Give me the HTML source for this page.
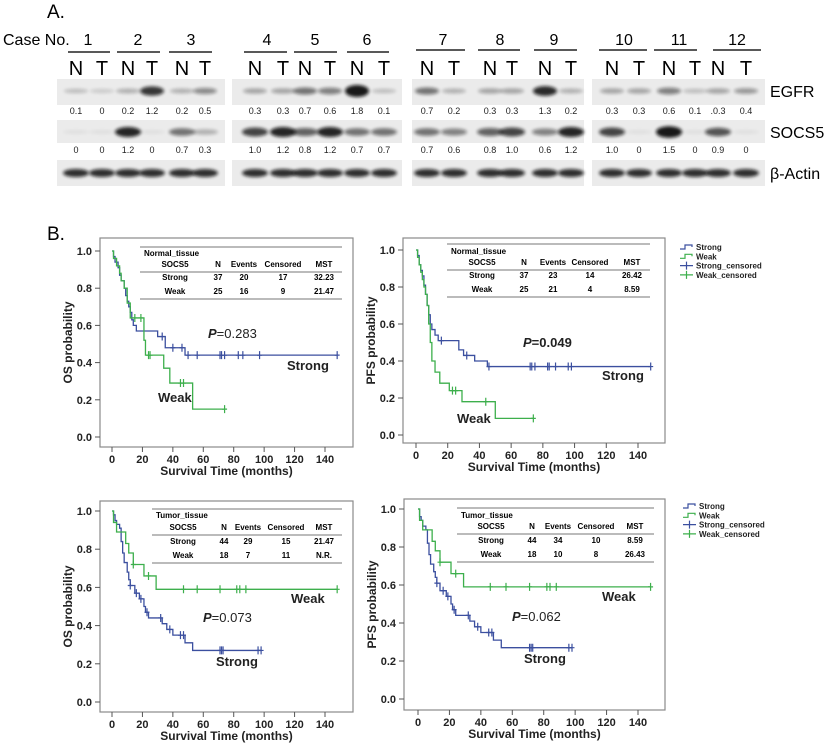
<!DOCTYPE html>
<html><head><meta charset="utf-8"><style>
body{margin:0;background:#fff;width:824px;height:744px;overflow:hidden}
svg{display:block;font-family:"Liberation Sans",sans-serif}
.b{font-weight:bold}
</style></head><body>
<svg id="fig" width="824" height="744" viewBox="0 0 824 744">
<defs><filter id="bl" x="-50%" y="-100%" width="200%" height="300%"><feGaussianBlur stdDeviation="1.6"/></filter></defs>
<text x="47" y="18" font-size="19">A.</text>
<text x="3" y="45" font-size="16">Case No.</text>
<g id="blot"></g>
<text x="47" y="240" font-size="19">B.</text>
<g id="plots"></g>
</svg>
<script>
const NS='http://www.w3.org/2000/svg';
function mk(tag,attrs,parent,txt){const e=document.createElementNS(NS,tag);for(const k in attrs)e.setAttribute(k,attrs[k]);if(txt!==undefined)e.textContent=txt;parent.appendChild(e);return e;}
// ---------- Blot data ----------
const caseNumbers=['1','2','3','4','5','6','7','8','9','10','11','12'];
const egfrValues=['0.1','0','0.2','1.2','0.2','0.5','0.3','0.3','0.7','0.6','1.8','0.1','0.7','0.2','0.3','0.3','1.3','0.2','0.3','0.3','0.6','0.1','.0.3','0.4'];
const socs5Values=['0','0','1.2','0','0.7','0.3','1.0','1.2','0.8','1.2','0.7','0.7','0.7','0.6','0.8','1.0','0.6','1.2','1.0','0','1.5','0','0.9','0'];
const laneX=[76,102,128,152,182,205,255,283,305,330,357,384,427,454,490,512,545,571,612,639,669,695,718,746];
const caseCx=[88,138,191,267,315,367,443,500,554,624,679,737];
const caseLine=[[68,110],[117,160],[169,212],[244,287],[294,337],[347,389],[416,465],[478,520],[534,577],[599,647],[654,697],[713,761]];
const panels=[[57,225],[232,402],[412,584],[592,765]];
const blot=document.getElementById('blot');
caseNumbers.forEach((c,i)=>{
  const t=mk('text',{x:caseCx[i],y:45,'font-size':16,'text-anchor':'middle'},blot,c);
  
  const ly=i<6?52:50;
  const l=mk('line',{x1:caseLine[i][0],x2:caseLine[i][1],y1:ly,y2:ly,stroke:'#222','stroke-width':1.5},blot);
  
});
laneX.forEach((x,i)=>{
  const t=mk('text',{x:x,y:75,'font-size':20,'text-anchor':'middle'},blot,i%2?'T':'N');
  
});
const rows=[[79,105],[120,143],[160,186]];
panels.forEach(p=>{rows.forEach(r=>{
  const rc=mk('rect',{x:p[0],y:r[0],width:p[1]-p[0],height:r[1]-r[0],fill:'#ebebeb'},blot);
  
});});
laneX.forEach((x,i)=>{
  const e=parseFloat(egfrValues[i].replace('.0.','0.'))||0;
  const b1=mk('ellipse',{cx:x,cy:91,rx:12,ry:2+Math.min(e,1.8)*2.2,fill:'#111',opacity:Math.min(0.15+e*0.55,0.95),filter:'url(#bl)'},blot);
  
  const s=parseFloat(socs5Values[i])||0;
  const b2=mk('ellipse',{cx:x,cy:132,rx:13,ry:2+s*2.5,fill:'#111',opacity:Math.min(0.05+s*0.7,0.95),filter:'url(#bl)'},blot);
  
  const b3=mk('ellipse',{cx:x,cy:173,rx:13,ry:4,fill:'#111',opacity:0.85,filter:'url(#bl)'},blot);
  
  const t1=mk('text',{x:x,y:114,'font-size':9,'text-anchor':'middle',fill:'#222'},blot,egfrValues[i]);
  
  const t2=mk('text',{x:x,y:153,'font-size':9,'text-anchor':'middle',fill:'#222'},blot,socs5Values[i]);
  
});
[['EGFR',97],['SOCS5',138],['β-Actin',179]].forEach(a=>{
  const t=mk('text',{x:770,y:a[1],'font-size':16},blot,a[0]);
  
});
// ---------- KM data ----------
const xTicks=[0,20,40,60,80,100,120,140];
const yTicks=[0,0.2,0.4,0.6,0.8,1.0];
const p1StrongT=[0,1,2,4,5,6,8,9,10,11,12,13,14,16,30,35,48];
const p1StrongS=[1,.97,.94,.91,.87,.84,.80,.76,.73,.70,.67,.63,.60,.57,.54,.48,.44];
const p1StrongC=[33,40,46,50,56,71,72,74,83,86,97,148];
const p1WeakT=[0,1,3,5,6,8,10,12,21,22,34,38,53];
const p1WeakS=[1,.96,.92,.88,.84,.80,.72,.64,.52,.44,.37,.29,.15];
const p1WeakC=[15,19,24,25,45,47,74];
const p2StrongT=[0,1,2,3,4,5,6,7,8,9,10,12,14,27,30,37,45];
const p2StrongS=[1,.97,.92,.89,.86,.81,.76,.70,.65,.60,.57,.54,.51,.46,.43,.40,.37];
const p2StrongC=[16,32,46,72,73,75,83,84,88,96,98,148];
const p2WeakT=[0,1,2,3,4,5,6,7,8,9,10,12,15,21,29,50];
const p2WeakS=[1,.96,.92,.88,.84,.80,.76,.70,.60,.50,.40,.34,.28,.24,.18,.09];
const p2WeakC=[23,25,44,74];
const p3StrongT=[0,1,2,3,5,6,7,8,10,11,12,15,18,21,22,24,33,36,40,48,53];
const p3StrongS=[1,.98,.95,.93,.91,.84,.78,.73,.68,.64,.61,.57,.54,.50,.47,.44,.41,.38,.35,.31,.27];
const p3StrongC=[12,16,19,23,32,38,45,47,71,72,73,96,98];
const p3WeakT=[0,1,3,9,11,14,21,29];
const p3WeakS=[1,.94,.89,.83,.78,.72,.66,.59];
const p3WeakC=[14,24,47,56,71,82,84,88,148];
const p4StrongT=[0,1,2,3,5,6,7,8,10,11,12,14,18,21,22,24,33,36,40,48,53];
const p4StrongS=[1,.96,.94,.91,.89,.82,.76,.71,.67,.64,.61,.57,.54,.50,.47,.44,.41,.38,.35,.31,.27];
const p4StrongC=[12,16,19,23,32,38,45,47,71,72,73,96,98];
const p4WeakT=[0,1,3,9,11,14,21,29];
const p4WeakS=[1,.94,.89,.83,.78,.72,.66,.59];
const p4WeakC=[14,24,46,56,71,82,84,88,148];
const tblNormal1=[['Strong','37','20','17','32.23'],['Weak','25','16','9','21.47']];
const tblNormal2=[['Strong','37','23','14','26.42'],['Weak','25','21','4','8.59']];
const tblTumor1=[['Strong','44','29','15','21.47'],['Weak','18','7','11','N.R.']];
const tblTumor2=[['Strong','44','34','10','8.59'],['Weak','18','10','8','26.43']];
const BLUE='#3b4f9f',GREEN='#3daf4c';
const plotsCfg=[
 {fx:[100,353],fy:[238,447],x0:112,x1:325,y1:251,y0:437,yl:'OS probability',tab:{title:'Normal_tissue',rows:tblNormal1,x:[140,342],ty:247,hy:272,by:299,cols:[175,218,244,283,324],ry:[253,264,277,291]},
  S:[p1StrongT,p1StrongS,p1StrongC],W:[p1WeakT,p1WeakS,p1WeakC],P:['0.283',208,333],SL:[287,365],WL:[158,397]},
 {fx:[403,665],fy:[238,443],x0:416,x1:638,y1:250,y0:435,yl:'PFS probability',tab:{title:'Normal_tissue',rows:tblNormal2,x:[447,650],ty:244,hy:270,by:297,cols:[482,524,553,590,632],ry:[251,262,275,289]},
  S:[p2StrongT,p2StrongS,p2StrongC],W:[p2WeakT,p2WeakS,p2WeakC],P:['0.049',523,342],SL:[602,375],WL:[457,418],leg:[680,247]},
 {fx:[100,353],fy:[501,712],x0:112,x1:325,y1:511,y0:702,yl:'OS probability',tab:{title:'Tumor_tissue',rows:tblTumor1,x:[152,342],ty:509,hy:535,by:563,cols:[183,224,248,286,324],ry:[515,527,541,555]},
  S:[p3StrongT,p3StrongS,p3StrongC],W:[p3WeakT,p3WeakS,p3WeakC],P:['0.073',203,617],SL:[216,661],WL:[291,598]},
 {fx:[404,665],fy:[499,710],x0:418,x1:638,y1:509,y0:699,yl:'PFS probability',tab:{title:'Tumor_tissue',rows:tblTumor2,x:[457,654],ty:508,hy:534,by:562,cols:[491,532,558,596,635],ry:[515,526,540,554]},
  S:[p4StrongT,p4StrongS,p4StrongC],W:[p4WeakT,p4WeakS,p4WeakC],P:['0.062',512,616],SL:[524,658],WL:[602,596],leg:[683,506]}
];
const plots=document.getElementById('plots');
function stepAt(T,S,t){let s=S[0];for(let i=0;i<T.length;i++){if(T[i]<=t)s=S[i];}return s;}
plotsCfg.forEach((c,pi)=>{
  const g=mk('g',{},plots);
  const X=t=>c.x0+(c.x1-c.x0)*t/140, Y=s=>c.y0+(c.y1-c.y0)*s;
  const fr=mk('rect',{x:c.fx[0],y:c.fy[0],width:c.fx[1]-c.fx[0],height:c.fy[1]-c.fy[0],fill:'#fff',stroke:'#8a8a8a','stroke-width':1.2},g);
  
  xTicks.forEach(v=>{
    const l=mk('line',{x1:X(v),x2:X(v),y1:c.fy[1],y2:c.fy[1]+5,stroke:'#555'},g);
    const t=mk('text',{x:X(v),y:c.fy[1]+16,'font-size':11,'text-anchor':'middle',class:'b',fill:'#222'},g,String(v));
  });
  yTicks.forEach(v=>{
    const l=mk('line',{x1:c.fx[0]-5,x2:c.fx[0],y1:Y(v),y2:Y(v),stroke:'#555'},g);
    const t=mk('text',{x:c.fx[0]-8,y:Y(v)+4,'font-size':11,'text-anchor':'end',class:'b',fill:'#222'},g,v.toFixed(1));
  });
  const xt=mk('text',{x:(c.fx[0]+c.fx[1])/2,y:c.fy[1]+28,'font-size':12,'text-anchor':'middle',class:'b',fill:'#222'},g,'Survival Time (months)');
  
  const ycx=c.fx[0]-28,ycy=(c.fy[0]+c.fy[1])/2;
  const yt=mk('text',{x:ycx,y:ycy,'font-size':12,'text-anchor':'middle',class:'b',fill:'#222',transform:`rotate(-90 ${ycx} ${ycy})`},g,c.yl);
  
  // table
  const tb=c.tab;
  [tb.ty,tb.hy,tb.by].forEach(yy=>{const l=mk('line',{x1:tb.x[0],x2:tb.x[1],y1:yy,y2:yy,stroke:'#777'},g);});
  const tt=mk('text',{x:tb.x[0]+4,y:tb.ry[0]+3,'font-size':8,class:'b'},g,tb.title);
  ['SOCS5','N','Events','Censored','MST'].forEach((h,i)=>{const t=mk('text',{x:tb.cols[i],y:tb.ry[1]+3,'font-size':8,class:'b','text-anchor':'middle'},g,h);});
  tb.rows.forEach((r,ri)=>r.forEach((v,i)=>{const t=mk('text',{x:tb.cols[i],y:tb.ry[2+ri]+3,'font-size':8,class:'b','text-anchor':'middle'},g,v);}));
  // curves
  [[c.S,BLUE,'strong'],[c.W,GREEN,'weak']].forEach(([d,col,nm])=>{
    const [T,S,C]=d;let last=Math.max(T[T.length-1],C[C.length-1]);
    let p=`M${X(T[0])},${Y(S[0])}`;
    for(let i=1;i<T.length;i++){p+=` H${X(T[i])} V${Y(S[i])}`;}
    p+=` H${X(last)}`;
    const pa=mk('path',{d:p,fill:'none',stroke:col,'stroke-width':1.3},g);
    
    C.forEach(t=>{const s=stepAt(T,S,t);const m=mk('path',{d:`M${X(t)},${Y(s)-4}V${Y(s)+4}M${X(t)-2.5},${Y(s)}H${X(t)+2.5}`,stroke:col,'stroke-width':1.2},g);
      });
  });
  const pt=mk('text',{x:c.P[1],y:c.P[2]+5,'font-size':13,fill:'#222'},g);
  const ti=mk('tspan',{'font-style':'italic','font-weight':'bold'},pt,'P');
  mk('tspan',{'font-weight':pi==1?'bold':'normal'},pt,'='+c.P[0]);
  const sl=mk('text',{x:c.SL[0],y:c.SL[1]+5,'font-size':13,class:'b',fill:'#222'},g,'Strong');
  const wl=mk('text',{x:c.WL[0],y:c.WL[1]+5,'font-size':13,class:'b',fill:'#222'},g,'Weak');
  if(c.leg){
    const lg=mk('g',{},g);
    const [lx,ly]=c.leg;
    [['Strong',BLUE,0],['Weak',GREEN,0],['Strong_censored',BLUE,1],['Weak_censored',GREEN,1]].forEach((e,i)=>{
      const yy=ly+i*9.3;
      const ent=mk('g',{},lg);
      if(e[2])mk('path',{d:`M${lx},${yy}H${lx+13}M${lx+6.5},${yy-4}V${yy+4}`,stroke:e[1],'stroke-width':1.2,fill:'none'},ent);
      else mk('path',{d:`M${lx},${yy+2}H${lx+5}V${yy-2}H${lx+12}V${yy}`,stroke:e[1],'stroke-width':1.2,fill:'none'},ent);
      mk('text',{x:lx+16,y:yy+3,'font-size':8,class:'b',fill:'#222'},ent,e[0]);
    });
  }
});
</script>
</body></html>
